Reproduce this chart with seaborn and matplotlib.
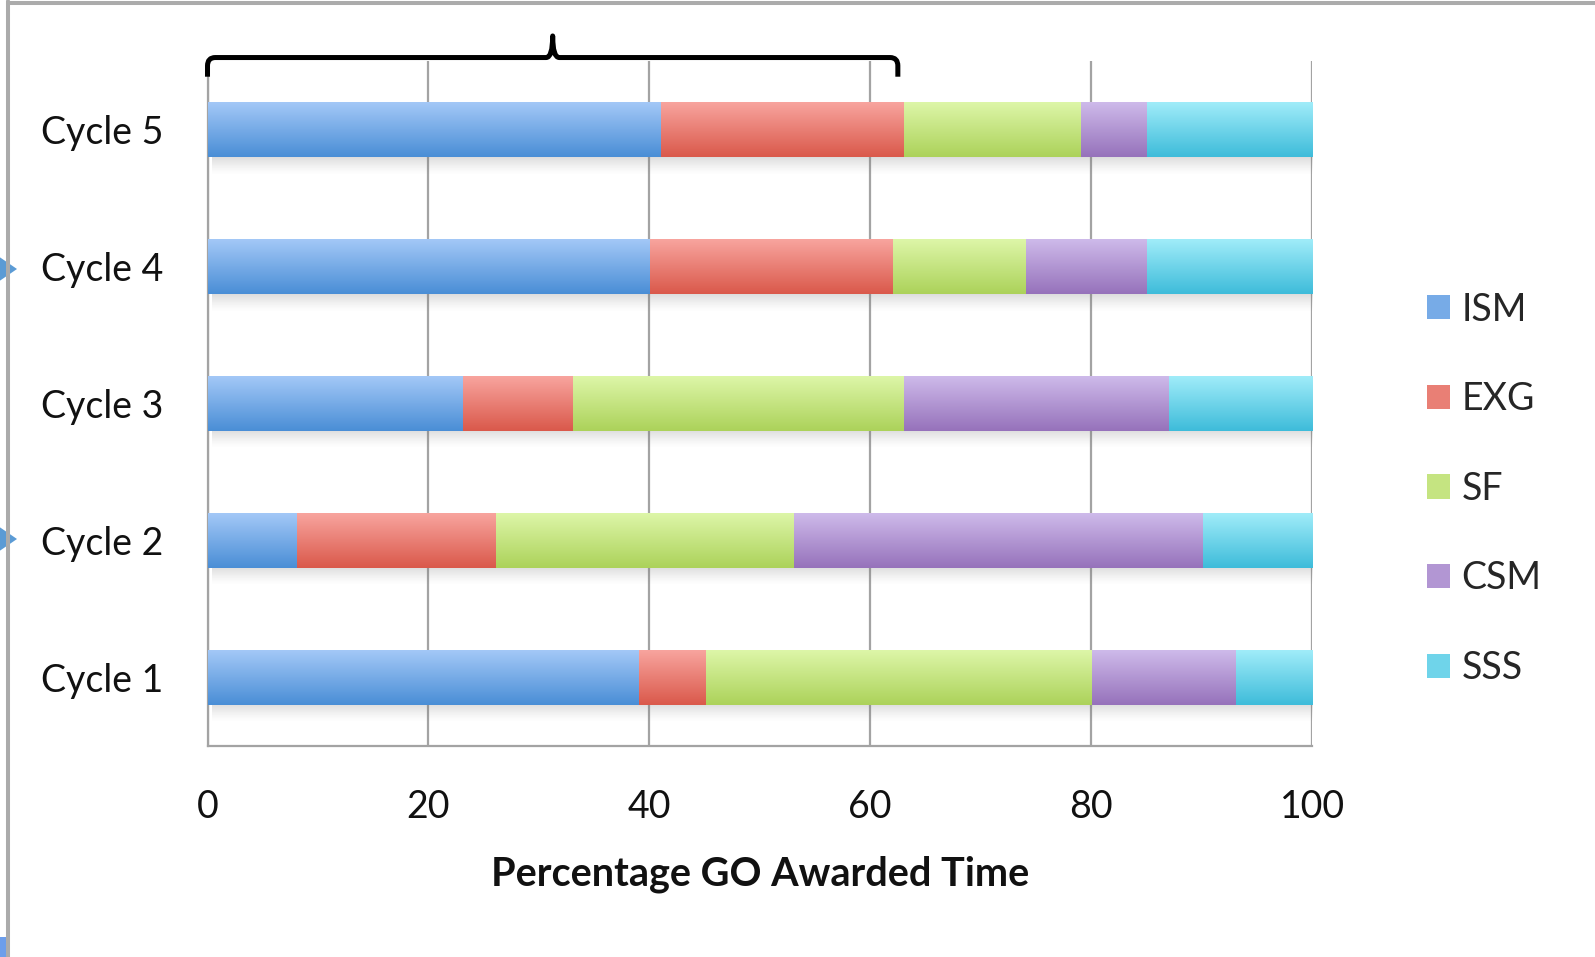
import numpy as np
import pandas as pd
import matplotlib
matplotlib.use("Agg")
import matplotlib.pyplot as plt
import matplotlib.transforms as mtransforms
import seaborn as sns
from matplotlib.colors import to_rgb
from matplotlib.patches import Patch, Polygon, Rectangle, PathPatch
from matplotlib.path import Path
from matplotlib.lines import Line2D

# --- data -------------------------------------------------------------
cycles = ["Cycle 5", "Cycle 4", "Cycle 3", "Cycle 2", "Cycle 1"]
series = ["ISM", "EXG", "SF", "CSM", "SSS"]
ism = [41, 40, 23, 8, 39]
exg = [22, 22, 10, 18, 6]
sf = [16, 12, 30, 27, 35]
csm = [6, 11, 24, 37, 13]
sss = [15, 15, 13, 10, 7]
x_ticks = [0, 20, 40, 60, 80, 100]
x_label = "Percentage GO Awarded Time"

# gradient end colours per series (top -> bottom of each bar)
top_colors = ["#A3C8F7", "#F8A49E", "#DDF6A8", "#CEBAEA", "#A0ECF9"]
bottom_colors = ["#4A8ED6", "#DA594B", "#ACD25A", "#9672BB", "#3EBCDA"]

sns.set_style("white")
plt.rcParams["font.family"] = ["Lato", "DejaVu Sans"]

df = pd.DataFrame({"cycle": cycles, "ISM": ism, "EXG": exg, "SF": sf,
                   "CSM": csm, "SSS": sss})
long = df.melt(id_vars="cycle", var_name="series", value_name="share")
long["order"] = long["series"].map({s: i for i, s in enumerate(series)})
long = long.sort_values(["cycle", "order"])
long["end"] = long.groupby("cycle")["share"].cumsum()

fig = plt.figure(figsize=(15.95, 9.57), dpi=100)
ax = fig.add_axes([0.1301, 0.2209, 0.6925, 0.7154])

GRAY = "#a3a3a3"

# stacked bars: cumulative totals drawn back to front
layers = []
for k in reversed(range(len(series))):
    sub = long[long["series"] == series[k]]
    n0 = len(ax.patches)
    mid = tuple((np.array(to_rgb(top_colors[k])) + np.array(to_rgb(bottom_colors[k]))) / 2)
    sns.barplot(data=sub, x="end", y="cycle", order=cycles, orient="h",
                width=0.4, color=mid, saturation=1, errorbar=None,
                edgecolor="none", linewidth=0, ax=ax)
    layers.append((k, list(ax.patches[n0:])))

# soft drop shadow under each full bar
totals = long.groupby("cycle")["end"].max().reindex(cycles).values
shade = np.zeros((64, 1, 4))
shade[..., :3] = 0.45
shade[:, 0, 3] = np.linspace(0.38, 0.0, 64) ** 1.3
for i, tot in enumerate(totals):
    ax.imshow(shade, extent=[0.4, tot + 0.4, i + 0.2 + 0.13, i + 0.19],
              aspect="auto", interpolation="bilinear", zorder=1.5)

# vertical gradient fill for each segment
z = 3
for k, patches in layers:
    t = np.linspace(0, 1, 64)[:, None, None]
    img = (1 - t) * np.array(to_rgb(top_colors[k]))[None, None, :] \
        + t * np.array(to_rgb(bottom_colors[k]))[None, None, :]
    for p in patches:
        x0, y0, w, h = p.get_x(), p.get_y(), p.get_width(), p.get_height()
        ax.imshow(img, extent=[x0, x0 + w, y0 + h, y0], aspect="auto",
                  interpolation="bilinear", zorder=z)
    z += 1

ax.set_xlim(0, 100)
ax.set_ylim(4.5, -0.5)
ax.set_xticks(x_ticks)
ax.set_xticklabels([str(v) for v in x_ticks])
ax.set_yticks(range(len(cycles)))
ax.set_yticklabels(cycles)
ax.set_yticks(np.arange(-0.5, len(cycles), 1.0), minor=True)
ax.set_ylabel("")

ax.set_axisbelow(True)
ax.xaxis.grid(True, color=GRAY, linewidth=1.6)
ax.yaxis.grid(False)
for side in ["top", "right"]:
    ax.spines[side].set_visible(False)
for side in ["left", "bottom"]:
    ax.spines[side].set_color(GRAY)
    ax.spines[side].set_linewidth(1.6)

ax.tick_params(axis="x", which="major", direction="out", length=8.6,
               width=1.6, color=GRAY, pad=23, labelsize=27, labelcolor="#111111")
ax.tick_params(axis="y", which="major", length=0, pad=32, labelsize=27,
               labelcolor="#111111")
ax.tick_params(axis="y", which="minor", direction="out", length=11,
               width=1.6, color=GRAY)

ax.set_xlabel(x_label, fontsize=28.5, fontweight="bold", color="#111111")
ax.xaxis.set_label_coords(0.5, -0.160)

# legend
handles = [Patch(facecolor=tuple((np.array(to_rgb(a)) + np.array(to_rgb(b))) / 2),
                 edgecolor="none", label=s)
           for s, a, b in zip(series, top_colors, bottom_colors)]
fig.legend(handles=handles, loc="upper left", bbox_to_anchor=(0.8947, 0.6954),
           frameon=False, fontsize=27, handlelength=0.62, handleheight=0.62,
           handletextpad=0.3, labelspacing=1.43, borderpad=0, borderaxespad=0)

# brace over the first two segments of the top bar
brace_end = ism[0] + exg[0] - 0.5
tip = brace_end / 2
trans = mtransforms.blended_transform_factory(ax.transData, ax.transAxes)
yh, ye, yt = 1.005, 0.977, 1.0365
r = 0.7
verts = [(0, ye), (0, yh - 0.012), (0, yh), (r, yh),
         (tip - 0.6, yh), (tip, yh), (tip, yt),
         (tip, yh), (tip + 0.6, yh),
         (brace_end - r, yh), (brace_end, yh), (brace_end, yh - 0.012),
         (brace_end, ye)]
codes = [Path.MOVETO, Path.LINETO, Path.CURVE3, Path.CURVE3,
         Path.LINETO, Path.CURVE3, Path.CURVE3,
         Path.CURVE3, Path.CURVE3,
         Path.LINETO, Path.CURVE3, Path.CURVE3,
         Path.LINETO]
ax.add_patch(PathPatch(Path(verts, codes), facecolor="none", edgecolor="black",
                       linewidth=3.6, transform=trans, clip_on=False,
                       capstyle="butt", joinstyle="round", zorder=10))

# frame and pointer marks along the left edge
W, H = 1595, 957
def fx(px):
    return px / W
def fy(py):
    return 1 - py / H

for yc in (269, 539):
    fig.add_artist(Polygon([(fx(-2), fy(yc - 13)), (fx(17), fy(yc)), (fx(-2), fy(yc + 13))],
                           closed=True, facecolor="#5B9BD5", edgecolor="none",
                           transform=fig.transFigure))
fig.add_artist(Rectangle((0, 0), fx(6), 20 / H, facecolor="#6d9eeb",
                         edgecolor="none", transform=fig.transFigure))
fig.add_artist(Line2D([fx(8), fx(W + 5)], [fy(3), fy(3)], color="#ababab",
                      linewidth=2.9, transform=fig.transFigure))
fig.add_artist(Line2D([fx(8), fx(8)], [fy(1), fy(H + 5)], color="#ababab",
                      linewidth=2.9, transform=fig.transFigure))

fig.savefig("out.png", dpi=100)
